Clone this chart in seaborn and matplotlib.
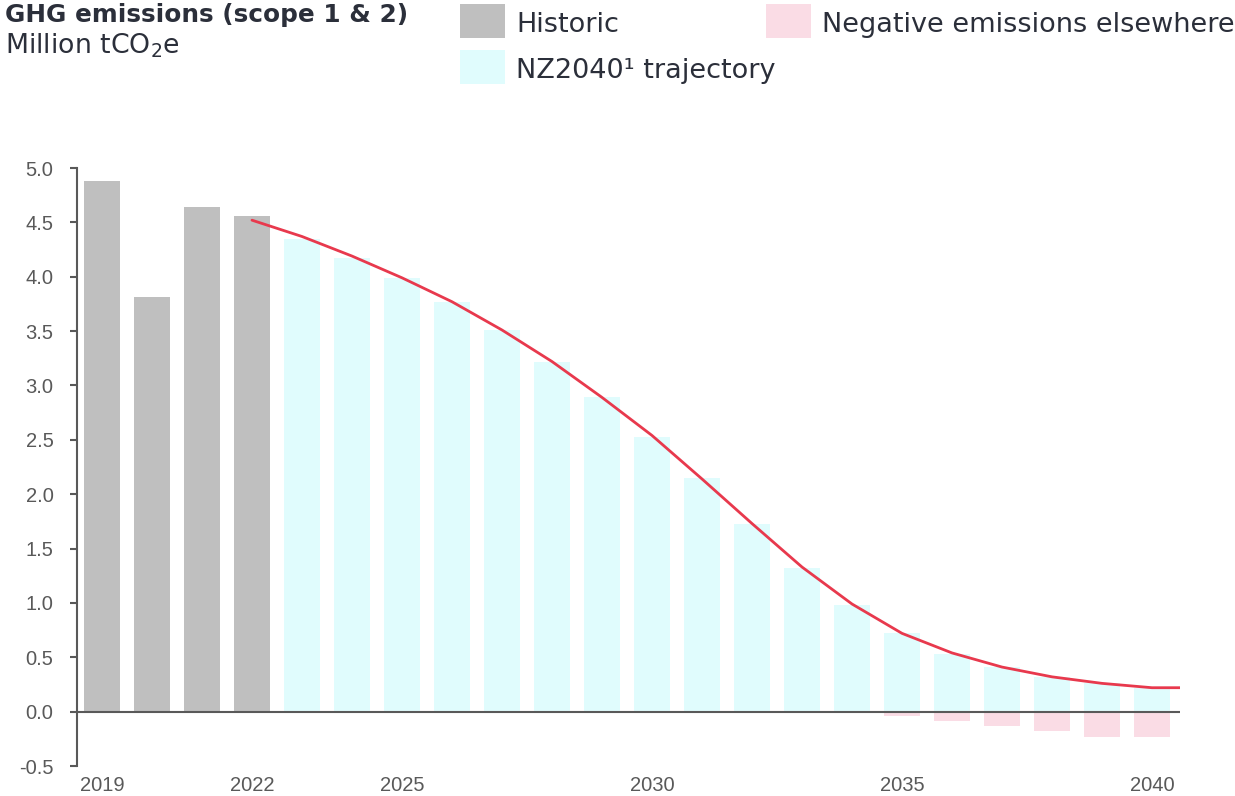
import matplotlib
matplotlib.use("Agg")
import matplotlib.pyplot as plt
from matplotlib.patches import Rectangle
import seaborn as sns
import pandas as pd

# ---- data (million tCO2e) ----
historic_years = [2019, 2020, 2021, 2022]
historic_values = [4.88, 3.81, 4.64, 4.56]

trajectory_years = list(range(2023, 2041))
trajectory_values = [4.35, 4.17, 3.99, 3.77, 3.51, 3.22, 2.89, 2.53, 2.15,
                     1.73, 1.32, 0.98, 0.72, 0.53, 0.41, 0.32, 0.26, 0.22]

negative_years = [2035, 2036, 2037, 2038, 2039, 2040]
negative_values = [-0.04, -0.085, -0.13, -0.18, -0.23, -0.23]

path_years = list(range(2022, 2041))
path_values = [4.52, 4.37, 4.19, 3.99, 3.77, 3.51, 3.22, 2.89, 2.54, 2.14,
               1.73, 1.33, 0.99, 0.72, 0.54, 0.41, 0.32, 0.26, 0.22]

x_ticks = [2019, 2022, 2025, 2030, 2035, 2040]
y_ticks = [-0.5, 0.0, 0.5, 1.0, 1.5, 2.0, 2.5, 3.0, 3.5, 4.0, 4.5, 5.0]

series_names = ["Historic", "NZ2040\u00b9 trajectory", "Negative emissions elsewhere"]
series_colors = ["#BFBFBF", "#E0FCFD", "#FADCE5"]

# ---- styling ----
GREY = "#595959"
INK = "#2B2F3A"
RED = "#E8394D"

sns.set_theme(style="white")
plt.rcParams["font.family"] = ["DejaVu Sans"]
plt.rcParams["axes.unicode_minus"] = False

W, H = 1235, 796
fig = plt.figure(figsize=(W / 100, H / 100), dpi=100)
ax = fig.add_axes([77 / W, 1 - 766 / H, 1103 / W, 598 / H])

df = pd.concat([
    pd.DataFrame({"year": historic_years, "value": historic_values, "series": series_names[0]}),
    pd.DataFrame({"year": trajectory_years, "value": trajectory_values, "series": series_names[1]}),
    pd.DataFrame({"year": negative_years, "value": negative_values, "series": series_names[2]}),
], ignore_index=True)

sns.barplot(data=df, x="year", y="value", hue="series", hue_order=series_names,
            palette=series_colors, saturation=1, native_scale=True, dodge=False,
            width=0.72, errorbar=None, linewidth=0, legend=False, ax=ax)

ax.set_xlim(2018.5, 2040.56)
ax.set_ylim(-0.5, 5.0)

# trajectory line, held flat from the last year to the edge of the plot
line_x = path_years + [ax.get_xlim()[1]]
line_y = path_values + [path_values[-1]]
sns.lineplot(x=line_x, y=line_y, color=RED, linewidth=2.0, ax=ax, zorder=5)
ax.set_xlim(2018.5, 2040.56)

ax.axhline(0, color=GREY, linewidth=1.5, zorder=4)

for side in ["top", "right", "bottom"]:
    ax.spines[side].set_visible(False)
ax.spines["left"].set_color(GREY)
ax.spines["left"].set_linewidth(1.5)

ax.set_xticks(x_ticks)
ax.set_xticklabels([str(t) for t in x_ticks])
ax.set_yticks(y_ticks)
ax.set_yticklabels([f"{v:.1f}" for v in y_ticks])
ax.tick_params(axis="y", left=True, length=5, width=1.5, color=GREY, pad=12,
               labelsize=14.5, labelcolor=GREY)
ax.tick_params(axis="x", bottom=False, length=0, pad=7, labelsize=14.5, labelcolor=GREY)
for lab in ax.get_xticklabels() + ax.get_yticklabels():
    lab.set_fontfamily(["Liberation Sans", "DejaVu Sans"])
ax.set_xlabel("")
ax.set_ylabel("")
ax.grid(False)

# ---- title ----
fig.text(5 / W, 1 - 22 / H, "GHG emissions (scope 1 & 2)", fontsize=17.8, fontweight="bold",
         color=INK, ha="left", va="baseline")
fig.text(5 / W, 1 - 53 / H, "Million tCO$_2$e", fontsize=19.3, color=INK,
         ha="left", va="baseline")

# ---- legend ----
legend_items = [
    (460, 4, series_colors[0], series_names[0]),
    (460, 50, series_colors[1], series_names[1]),
    (766, 4, series_colors[2], series_names[2]),
]
for px, py, col, name in legend_items:
    fig.add_artist(Rectangle((px / W, 1 - (py + 34) / H), 45 / W, 34 / H,
                             transform=fig.transFigure, facecolor=col, edgecolor="none"))
    fig.text((px + 56) / W, 1 - (py + 28) / H, name, fontsize=19.5, color=INK,
             ha="left", va="baseline")

fig.savefig("out.png", dpi=100)
